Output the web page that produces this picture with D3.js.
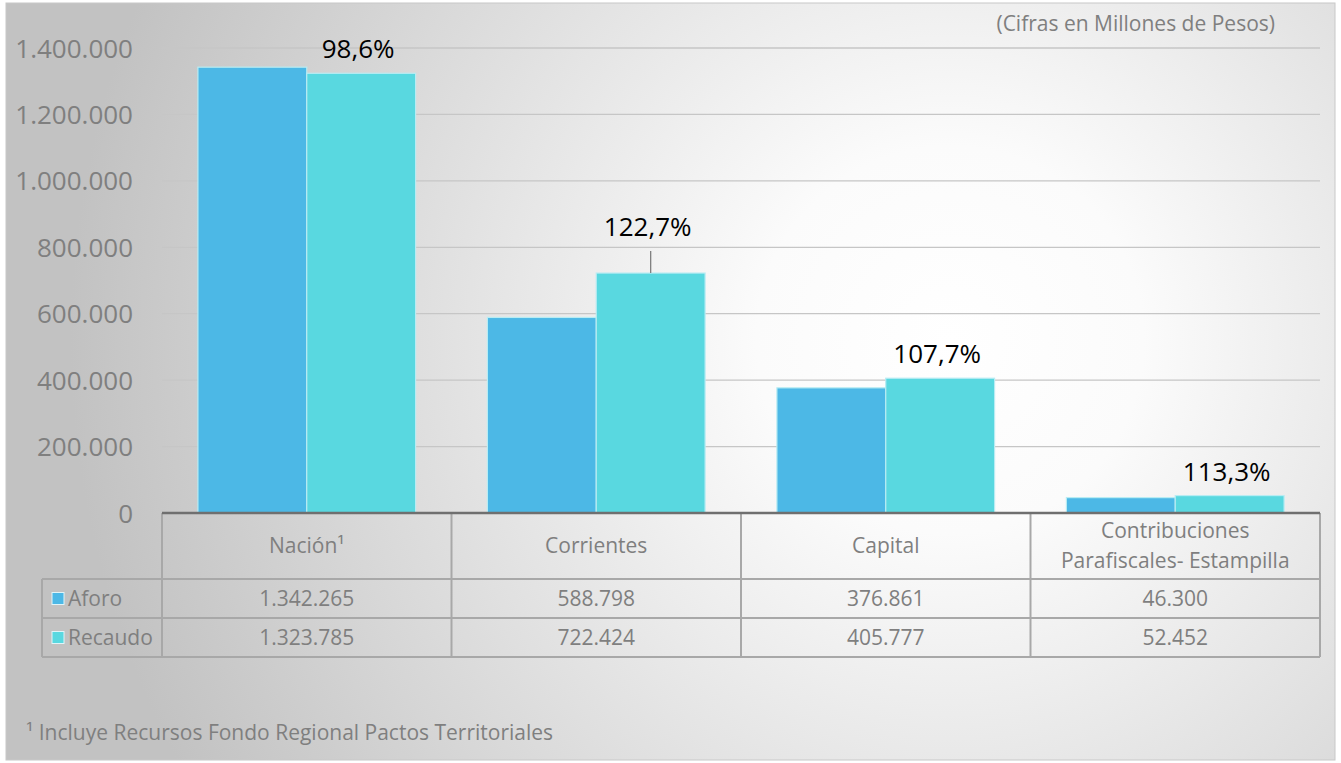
<!DOCTYPE html>
<html>
<head>
<meta charset="utf-8">
<script src="https://cdn.jsdelivr.net/npm/d3@7"></script>
<style>
  html, body { margin: 0; padding: 0; background: #fff; }
  svg { display: block; font-family: 'Open Sans', sans-serif; }
</style>
</head>
<body>
<svg id="chart" width="1341" height="763"></svg>
<script>
const categories = ['Nación¹', 'Corrientes', 'Capital', 'Contribuciones|Parafiscales- Estampilla'];
const seriesNames = ['Aforo', 'Recaudo'];
const aforo = [1342265, 588798, 376861, 46300];
const recaudo = [1323785, 722424, 405777, 52452];
const yTicks = [0, 200000, 400000, 600000, 800000, 1000000, 1200000, 1400000];
const labelLift = [0, 22, 0, 0]; // Corrientes label sits on a leader line

const colors = { Aforo: '#4cb8e6', Recaudo: '#59d8e0' };

const locale = d3.formatLocale({ decimal: ',', thousands: '.', grouping: [3], currency: ['$', ''] });
const fmtInt = locale.format(',d');
const fmtPct = locale.format('.1f');

const svg = d3.select('#chart');

const defs = svg.append('defs');
const bg = defs.append('radialGradient')
  .attr('id', 'bg')
  .attr('gradientUnits', 'userSpaceOnUse')
  .attr('cx', 950).attr('cy', 340).attr('r', 880);
bg.append('stop').attr('offset', '0%').attr('stop-color', '#ffffff');
bg.append('stop').attr('offset', '22%').attr('stop-color', '#fbfbfb');
bg.append('stop').attr('offset', '100%').attr('stop-color', '#c2c2c2');

svg.append('rect')
  .attr('x', 6).attr('y', 3).attr('width', 1329).attr('height', 757)
  .attr('fill', 'url(#bg)')
  .attr('stroke', '#c8c8c8').attr('stroke-width', 1);

const plot = { left: 162, right: 1320, top: 48, bottom: 513 };

const x = d3.scaleBand()
  .domain(categories)
  .range([plot.left, plot.right])
  .paddingInner(0)
  .paddingOuter(0);

const xInner = d3.scaleBand()
  .domain(seriesNames)
  .range([0, x.bandwidth()])
  .paddingOuter(0.33);

const y = d3.scaleLinear()
  .domain([0, 1400000])
  .range([plot.bottom, plot.top]);

// grid lines
svg.append('g')
  .selectAll('line')
  .data(yTicks.filter((d) => d > 0))
  .join('line')
  .attr('x1', plot.left)
  .attr('x2', plot.right)
  .attr('y1', (d) => y(d))
  .attr('y2', (d) => y(d))
  .attr('stroke', '#c6c6c6')
  .attr('stroke-width', 1.3);

// y axis labels
const yAxis = svg.append('g')
  .attr('transform', `translate(${plot.left - 29},0)`)
  .call(d3.axisLeft(y).tickValues(yTicks).tickFormat(fmtInt).tickSize(0).tickPadding(0));
yAxis.select('.domain').remove();
yAxis.selectAll('text')
  .attr('font-family', 'Open Sans, sans-serif')
  .attr('font-size', 26)
  .attr('fill', '#7f7f7f')
  .attr('dy', '0.35em');

// bars
const groups = svg.append('g')
  .selectAll('g')
  .data(categories.map((c, i) => ({ cat: c, i, values: [aforo[i], recaudo[i]] })))
  .join('g')
  .attr('transform', (d) => `translate(${x(d.cat)},0)`);

groups.selectAll('rect')
  .data((d) => d.values.map((v, k) => ({ name: seriesNames[k], value: v })))
  .join('rect')
  .attr('x', (d) => xInner(d.name))
  .attr('y', (d) => y(d.value))
  .attr('width', xInner.bandwidth())
  .attr('height', (d) => y(0) - y(d.value))
  .attr('fill', (d) => colors[d.name])
  .attr('stroke', '#b8ecf3')
  .attr('stroke-width', 1.2);

// percentage labels over Recaudo bars
groups.each(function (d) {
  const g = d3.select(this);
  const cx = xInner('Recaudo') + xInner.bandwidth() / 2;
  const top = y(recaudo[d.i]);
  const lift = labelLift[d.i];
  if (lift > 0) {
    g.append('line')
      .attr('x1', cx).attr('x2', cx)
      .attr('y1', top - lift).attr('y2', top)
      .attr('stroke', '#7f7f7f').attr('stroke-width', 1.3);
  }
  g.append('text')
    .attr('x', cx - 3)
    .attr('y', top - 15 - lift)
    .attr('text-anchor', 'middle')
    .attr('font-size', 26)
    .attr('fill', '#000')
    .text(`${fmtPct((recaudo[d.i] / aforo[d.i]) * 100)}%`);
});

// data table
const rows = { header: [513, 579], aforo: [579, 618], recaudo: [618, 657] };
const legendLeft = 42;
const tableColor = '#a8a8a8';
const table = svg.append('g');

// horizontal lines
[[plot.left, rows.header[1]], [legendLeft, rows.aforo[0]], [legendLeft, rows.aforo[1]], [legendLeft, rows.recaudo[1]]]
  .forEach(([x0, yy]) => {
    table.append('line')
      .attr('x1', x0).attr('x2', plot.right)
      .attr('y1', yy).attr('y2', yy)
      .attr('stroke', tableColor).attr('stroke-width', 2);
  });

// vertical lines
const colEdges = categories.map((c) => x(c)).concat([plot.right]);
colEdges.forEach((xx) => {
  table.append('line')
    .attr('x1', xx).attr('x2', xx)
    .attr('y1', rows.header[0]).attr('y2', rows.recaudo[1])
    .attr('stroke', tableColor).attr('stroke-width', 2);
});
table.append('line')
  .attr('x1', legendLeft).attr('x2', legendLeft)
  .attr('y1', rows.aforo[0]).attr('y2', rows.recaudo[1])
  .attr('stroke', tableColor).attr('stroke-width', 2);

// zero axis line
svg.append('line')
  .attr('x1', plot.left).attr('x2', plot.right)
  .attr('y1', y(0)).attr('y2', y(0))
  .attr('stroke', '#6f6f6f').attr('stroke-width', 2.5);

// header text
categories.forEach((c) => {
  const parts = c.split('|');
  const cx = x(c) + x.bandwidth() / 2;
  const mid = (rows.header[0] + rows.header[1]) / 2;
  const t = table.append('text')
    .attr('x', cx)
    .attr('text-anchor', 'middle')
    .attr('font-size', 21)
    .attr('fill', '#7f7f7f');
  parts.forEach((p, k) => {
    t.append('tspan')
      .attr('x', cx)
      .attr('y', mid + 7 + (k - (parts.length - 1) / 2) * 30)
      .text(p);
  });
});

// value rows
[[aforo, rows.aforo, 'Aforo'], [recaudo, rows.recaudo, 'Recaudo']].forEach(([vals, r, name]) => {
  const mid = (r[0] + r[1]) / 2;
  vals.forEach((v, i) => {
    table.append('text')
      .attr('x', x(categories[i]) + x.bandwidth() / 2)
      .attr('y', mid + 7)
      .attr('text-anchor', 'middle')
      .attr('font-size', 21)
      .attr('fill', '#7f7f7f')
      .text(fmtInt(v));
  });
  table.append('rect')
    .attr('x', 52).attr('y', mid - 6)
    .attr('width', 12).attr('height', 12)
    .attr('fill', colors[name])
    .attr('stroke', '#e0f4f8').attr('stroke-width', 1);
  table.append('text')
    .attr('x', 68)
    .attr('y', mid + 7)
    .attr('font-size', 21)
    .attr('fill', '#7f7f7f')
    .text(name);
});

// units note
svg.append('text')
  .attr('x', 1275)
  .attr('y', 31)
  .attr('text-anchor', 'end')
  .attr('font-size', 21)
  .attr('fill', '#7f7f7f')
  .text('(Cifras en Millones de Pesos)');

// footnote
svg.append('text')
  .attr('x', 26)
  .attr('y', 740)
  .attr('font-size', 21)
  .attr('fill', '#7f7f7f')
  .text('¹ Incluye Recursos Fondo Regional Pactos Territoriales');
</script>
</body>
</html>
